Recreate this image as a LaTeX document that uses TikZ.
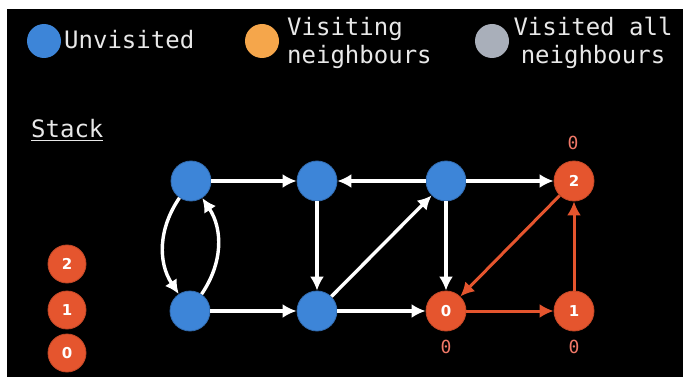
\documentclass[tikz,border=0pt]{standalone}
\usepackage{fontspec}
\setmainfont{DejaVu Sans}
\setmonofont{DejaVu Sans Mono}
\usetikzlibrary{arrows.meta}

\definecolor{unvisited}{HTML}{3D85D8}
\definecolor{visiting}{HTML}{F5A64B}
\definecolor{visited}{HTML}{A9AFBA}
\definecolor{onstack}{HTML}{E5552E}
\definecolor{idcol}{HTML}{F07868}
\definecolor{txt}{HTML}{E8E8E8}

\tikzset{
  vtx/.style={circle, fill=unvisited, draw=unvisited!80!black, line width=0.8pt, minimum size=40pt, inner sep=0pt},
  hot/.style={vtx, fill=onstack, draw=onstack!85!black, text=white, font=\bfseries\fontsize{15}{15}\selectfont},
  key/.style={circle, minimum size=34pt, inner sep=0pt},
  lbl/.style={text=txt, inner sep=0pt, font=\ttfamily\fontsize{24}{28}\selectfont},
  low/.style={text=idcol, inner sep=0pt, font=\ttfamily\fontsize{18}{18}\selectfont},
  edge/.style={->, white, line width=3.4pt},
  redge/.style={->, onstack, line width=3pt},
}

\begin{document}
\begin{tikzpicture}[x=1pt, y=-1pt, >={Latex[length=14pt,width=14pt]}]
      \fill[white] (0,0) rectangle (683,377);
      \fill[black] (7,9) rectangle (683,377);

      % legend
      \node[key, fill=unvisited] (k1) at (44,41) {};
      \node[lbl, anchor=base west] (t1) at (64,49) {Unvisited};
      \node[key, fill=visiting] (k2) at (262,41) {};
      \node[lbl, anchor=west, align=left] (t2) at (287,43) {Visiting\\neighbours};
      \node[key, fill=visited] (k3) at (492,41) {};
      \node[lbl, align=center] (t3) at (593,43) {Visited all\\neighbours};

      % stack
      \node[lbl, anchor=base west] (stk) at (31,138) {\underline{Stack}};
      \node[hot, minimum size=38pt] (s2) at (67,264) {2};
      \node[hot, minimum size=38pt] (s1) at (67,310) {1};
      \node[hot, minimum size=38pt] (s0) at (67,353) {0};

      % graph
      \node[vtx] (a) at (191,181) {};
      \node[vtx] (b) at (317,181) {};
      \node[vtx] (c) at (446,181) {};
      \node[hot] (d) at (574,181) {2};
      \node[vtx] (e) at (190,311) {};
      \node[vtx] (f) at (317,311) {};
      \node[hot] (g) at (446,311) {0};
      \node[hot] (h) at (574,311) {1};

      \node[low] (ld) at (573,143) {0};
      \node[low] (lg) at (446,347) {0};
      \node[low] (lh) at (574,347) {0};

      \draw[edge] (a) -- (b);
      \draw[edge] (c) -- (b);
      \draw[edge] (c) -- (d);
      \draw[edge] (b) -- (f);
      \draw[edge] (f) -- (c);
      \draw[edge] (c) -- (g);
      \draw[edge] (e) -- (f);
      \draw[edge] (f) -- (g);
      \draw[edge] (a) to[bend right=34] (e);
      \draw[edge] (e) to[bend right=34] (a);

      \draw[redge] (d) -- (g);
      \draw[redge] (g) -- (h);
      \draw[redge] (h) -- (d);
\end{tikzpicture}
\end{document}
